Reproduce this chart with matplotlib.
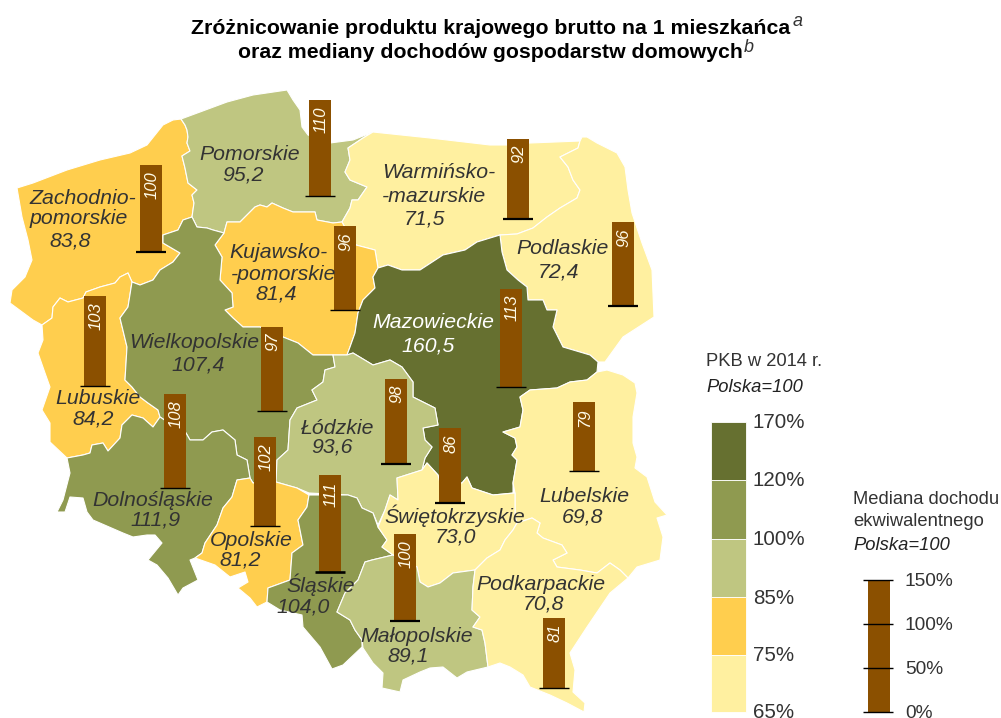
#!/usr/bin/env python3
import numpy as np
from matplotlib import pyplot as plt
from matplotlib.patches import Polygon

plt.rcParams["font.family"] = ["Liberation Sans", "DejaVu Sans"]

NAMES = [
    "Zachodniopomorskie", "Pomorskie", "Warminsko", "Podlaskie", "Kujawsko", "Lubuskie", "Wielkopolskie", "Mazowieckie",
    "Lodzkie", "Lubelskie", "Dolnoslaskie", "Opolskie", "Slaskie", "Swietokrzyskie", "Malopolskie", "Podkarpackie",
]
PKB = [83.8, 95.2, 71.5, 72.4, 81.4, 84.2, 107.4, 160.5, 93.6, 69.8, 111.9, 81.2, 104.0, 73.0, 89.1, 70.8]
MEDIANA = [100, 110, 92, 96, 96, 103, 97, 113, 98, 79, 108, 102, 111, 86, 100, 81]

LEGEND_EDGES = [170, 120, 100, 85, 75, 65]
INCOME_TICKS = [150, 100, 50, 0]

# voivodeship outlines in pixels
ZACHODNIOPOMORSKIE = [
    (181, 119), (185, 125), (187, 130), (188, 137), (187, 143), (190, 151), (182, 156), (185, 168), (188, 183),
    (197, 190), (192, 195), (194, 203), (192, 217), (183, 220), (178, 230), (163, 235), (163, 243), (180, 253),
    (173, 262), (160, 270), (153, 280), (140, 285), (132, 282), (128, 273), (120, 277), (115, 283), (100, 287),
    (86, 292), (83, 298), (68, 302), (60, 298), (53, 307), (52, 318), (42, 325), (33, 320), (10, 303), (12, 290),
    (25, 277), (32, 260), (28, 240), (22, 217), (17, 188), (33, 183), (67, 170), (100, 160), (130, 153), (147, 145),
    (163, 125), (173, 120),
]
POMORSKIE = [
    (181, 119), (200, 112), (227, 102), (253, 95), (287, 90), (293, 100), (300, 110), (302, 127), (308, 135),
    (330, 143), (353, 140), (373, 132), (363, 138), (348, 148), (350, 160), (345, 172), (350, 180), (367, 187),
    (358, 200), (352, 200), (350, 208), (342, 222), (333, 223), (317, 220), (315, 212), (293, 212), (283, 208),
    (272, 203), (267, 207), (260, 205), (255, 207), (247, 215), (240, 222), (227, 222), (224, 233), (213, 230),
    (207, 228), (197, 227), (192, 217), (194, 203), (192, 195), (197, 190), (188, 183), (185, 168), (182, 156),
    (190, 151), (187, 143), (188, 137), (187, 130), (185, 125),
]
WARMINSKO = [
    (373, 132), (430, 138), (490, 145), (507, 145), (530, 143), (580, 141), (578, 148), (560, 157), (568, 167),
    (573, 180), (580, 190), (577, 198), (560, 208), (547, 217), (533, 228), (517, 234), (500, 235), (477, 242),
    (465, 250), (443, 255), (420, 270), (402, 270), (388, 265), (378, 268), (375, 250), (356, 245), (350, 237),
    (342, 222), (350, 208), (352, 200), (358, 200), (367, 187), (350, 180), (345, 172), (350, 160), (348, 148),
    (363, 138),
]
PODLASKIE = [
    (580, 141), (582, 137), (587, 137), (597, 143), (617, 153), (625, 167), (628, 190), (632, 213), (642, 243),
    (652, 270), (654, 317), (623, 337), (605, 362), (598, 362), (590, 355), (563, 347), (553, 327), (557, 310),
    (547, 310), (543, 300), (528, 300), (527, 287), (518, 280), (507, 270), (502, 252), (500, 235), (517, 234),
    (533, 228), (547, 217), (560, 208), (577, 198), (580, 190), (573, 180), (568, 167), (560, 157), (578, 148),
]
KUJAWSKO = [
    (240, 222), (247, 215), (255, 207), (260, 205), (267, 207), (272, 203), (283, 208), (293, 212), (315, 212),
    (317, 220), (333, 223), (342, 222), (350, 237), (356, 245), (375, 250), (378, 268), (373, 277), (375, 288),
    (363, 300), (358, 313), (355, 333), (350, 347), (347, 355), (333, 355), (313, 355), (298, 343), (283, 337),
    (260, 327), (243, 327), (233, 318), (225, 310), (233, 307), (232, 293), (220, 280), (222, 257), (215, 245),
    (224, 233), (227, 222),
]
LUBUSKIE = [
    (132, 282), (128, 273), (120, 277), (115, 283), (100, 287), (86, 292), (83, 298), (68, 302), (60, 298), (53, 307),
    (52, 318), (42, 325), (43, 340), (38, 353), (45, 373), (50, 387), (42, 410), (50, 423), (50, 442), (67, 458),
    (83, 455), (90, 453), (92, 445), (103, 443), (108, 451), (120, 438), (122, 425), (132, 415), (143, 418),
    (153, 427), (160, 417), (158, 410), (148, 403), (140, 397), (132, 387), (125, 380), (127, 347), (120, 318),
    (128, 307),
]
WIELKOPOLSKIE = [
    (192, 217), (197, 227), (207, 228), (213, 230), (224, 233), (215, 245), (222, 257), (220, 280), (232, 293),
    (233, 307), (225, 310), (233, 318), (243, 327), (260, 327), (283, 337), (298, 343), (313, 355), (333, 355),
    (335, 367), (325, 370), (323, 382), (312, 390), (317, 400), (297, 408), (290, 420), (288, 450), (277, 460),
    (276, 482), (253, 483), (250, 478), (247, 460), (237, 455), (235, 440), (223, 430), (212, 432), (203, 440),
    (190, 440), (186, 433), (172, 425), (160, 417), (158, 410), (148, 403), (140, 397), (132, 387), (125, 380),
    (127, 347), (120, 318), (128, 307), (132, 282), (140, 285), (153, 280), (160, 270), (173, 262), (180, 253),
    (163, 243), (163, 235), (178, 230), (183, 220),
]
MAZOWIECKIE = [
    (500, 235), (477, 242), (465, 250), (443, 255), (420, 270), (402, 270), (388, 265), (378, 268), (373, 277),
    (375, 288), (363, 300), (358, 313), (355, 333), (350, 347), (347, 355), (353, 353), (373, 365), (390, 360),
    (402, 367), (413, 382), (413, 397), (435, 408), (438, 425), (423, 428), (425, 440), (432, 447), (425, 458),
    (422, 470), (427, 463), (438, 475), (440, 483), (462, 483), (467, 477), (472, 488), (493, 495), (513, 493),
    (513, 483), (517, 460), (512, 455), (517, 447), (515, 438), (503, 432), (520, 427), (523, 410), (520, 397),
    (530, 390), (557, 388), (570, 382), (587, 380), (597, 372), (598, 362), (590, 355), (563, 347), (553, 327),
    (557, 310), (547, 310), (543, 300), (528, 300), (527, 287), (518, 280), (507, 270), (502, 252),
]
LODZKIE = [
    (333, 355), (347, 355), (353, 353), (373, 365), (390, 360), (402, 367), (413, 382), (413, 397), (435, 408),
    (438, 425), (423, 428), (425, 440), (432, 447), (425, 458), (422, 470), (397, 478), (398, 500), (390, 495),
    (385, 510), (378, 525), (373, 513), (362, 508), (357, 498), (348, 495), (309, 493), (297, 488), (276, 482),
    (277, 460), (288, 450), (290, 420), (297, 408), (317, 400), (312, 390), (323, 382), (325, 370), (335, 367),
]
LUBELSKIE = [
    (597, 372), (607, 370), (623, 375), (635, 383), (637, 393), (633, 417), (633, 443), (637, 457), (635, 468),
    (647, 477), (655, 502), (667, 515), (657, 518), (663, 537), (660, 560), (637, 567), (628, 578), (620, 570),
    (610, 563), (597, 573), (580, 570), (557, 567), (553, 560), (567, 553), (562, 545), (543, 538), (537, 533),
    (540, 523), (532, 518), (517, 523), (515, 517), (515, 493), (513, 483), (517, 460), (512, 455), (517, 447),
    (515, 438), (503, 432), (520, 427), (523, 410), (520, 397), (530, 390), (557, 388), (570, 382), (587, 380),
]
DOLNOSLASKIE = [
    (67, 458), (83, 455), (90, 453), (92, 445), (103, 443), (108, 451), (120, 438), (122, 425), (132, 415), (143, 418),
    (153, 427), (160, 417), (172, 425), (186, 433), (190, 440), (203, 440), (212, 432), (223, 430), (235, 440),
    (237, 455), (247, 460), (250, 478), (237, 480), (232, 497), (223, 508), (217, 525), (205, 543), (202, 553),
    (195, 558), (190, 560), (198, 580), (183, 588), (178, 595), (168, 578), (157, 565), (148, 560), (162, 543),
    (155, 535), (147, 535), (133, 537), (123, 533), (93, 520), (87, 512), (83, 498), (70, 497), (65, 512), (57, 512),
    (63, 500), (70, 473),
]
OPOLSKIE = [
    (237, 480), (250, 478), (253, 483), (276, 482), (297, 488), (309, 495), (307, 507), (298, 520), (303, 545),
    (292, 553), (290, 580), (268, 588), (267, 602), (257, 607), (250, 598), (238, 588), (248, 582), (245, 572),
    (230, 577), (215, 565), (195, 558), (202, 553), (205, 543), (217, 525), (223, 508), (232, 497),
]
SLASKIE = [
    (309, 495), (348, 495), (357, 498), (362, 508), (373, 513), (378, 527), (387, 540), (382, 547), (393, 555),
    (372, 560), (365, 562), (358, 580), (345, 593), (337, 612), (350, 620), (355, 630), (362, 640), (362, 647),
    (343, 665), (332, 669), (320, 647), (303, 627), (302, 615), (280, 610), (267, 602), (268, 588), (290, 580),
    (292, 553), (303, 545), (298, 520), (307, 507),
]
SWIETOKRZYSKIE = [
    (422, 470), (427, 463), (438, 475), (440, 483), (462, 483), (467, 477), (472, 488), (493, 495), (515, 493),
    (515, 517), (517, 523), (513, 530), (505, 540), (500, 550), (487, 558), (475, 570), (453, 573), (440, 583),
    (428, 587), (420, 582), (417, 567), (393, 555), (382, 547), (387, 540), (378, 527), (385, 510), (390, 495),
    (398, 500), (397, 478),
]
MALOPOLSKIE = [
    (393, 555), (417, 567), (420, 582), (428, 587), (440, 583), (453, 573), (475, 570), (473, 587), (472, 610),
    (480, 617), (473, 627), (482, 630), (485, 643), (488, 667), (467, 672), (457, 678), (443, 667), (430, 668),
    (420, 672), (403, 680), (400, 692), (382, 688), (383, 673), (373, 663), (363, 648), (362, 640), (355, 630),
    (350, 620), (337, 612), (345, 593), (358, 580), (365, 562), (372, 560),
]
PODKARPACKIE = [
    (517, 523), (532, 518), (540, 523), (537, 533), (543, 538), (562, 545), (567, 553), (553, 560), (557, 567),
    (580, 570), (597, 573), (610, 563), (620, 570), (628, 578), (610, 593), (587, 627), (570, 653), (575, 670),
    (573, 692), (585, 703), (584, 712), (567, 703), (550, 695), (530, 687), (523, 675), (510, 667), (500, 663),
    (488, 667), (485, 643), (482, 630), (473, 627), (480, 617), (472, 610), (473, 587), (475, 570), (487, 558),
    (500, 550), (505, 540), (513, 530),
]
SHAPES = [
    ZACHODNIOPOMORSKIE, POMORSKIE, WARMINSKO, PODLASKIE, KUJAWSKO, LUBUSKIE, WIELKOPOLSKIE, MAZOWIECKIE,
    LODZKIE, LUBELSKIE, DOLNOSLASKIE, OPOLSKIE, SLASKIE, SWIETOKRZYSKIE, MALOPOLSKIE, PODKARPACKIE,
]

# name lines: text, x centre, y centre
LABEL_LINES = [
    [("Zachodnio-", 83, 199), ("pomorskie", 79, 219)],
    [("Pomorskie", 250, 154)],
    [("Warmińsko-", 439, 173), ("-mazurskie", 434, 197)],
    [("Podlaskie", 563, 249)],
    [("Kujawsko-", 278, 252), ("-pomorskie", 284, 274)],
    [("Lubuskie", 98, 399)],
    [("Wielkopolskie", 194, 343)],
    [("Mazowieckie", 433, 323)],
    [("Łódzkie", 338, 428)],
    [("Lubelskie", 584, 497)],
    [("Dolnośląskie", 153, 500)],
    [("Opolskie", 251, 540)],
    [("Śląskie", 321, 585)],
    [("Świętokrzyskie", 455, 516)],
    [("Małopolskie", 417, 636)],
    [("Podkarpackie", 541, 585)],
]
VALUE_XY = [
    (70, 241), (243, 175), (425, 219), (559, 272), (276, 294), (93, 419), (198, 365), (428, 346),
    (332, 447), (583, 517), (156, 520), (240, 560), (303, 607), (456, 537), (408, 656), (544, 604),
]

BAR_X = [151, 320, 518, 623, 345, 95, 272, 511, 396, 584, 175, 265, 330, 450, 405, 554]
BAR_BASE = [252, 196, 219, 306, 310, 386, 411, 387, 464, 471, 488, 526, 572, 503, 621, 688]
BASE_LW = [1.6, 1.0, 1.6, 1.6, 1.0, 1.0, 1.0, 1.0, 1.6, 1.0, 1.0, 1.0, 1.9, 1.6, 1.6, 1.0]

COLORS = ["#FFF0A0", "#FFCE4E", "#BFC681", "#8F9A50", "#667030"]
BROWN = "#8B5000"
TEXT = "#333333"
PX_PER_PCT = 0.87


def main():
    fig = plt.figure(figsize=(10.01, 7.18), dpi=100)
    ax = fig.add_axes([0, 0, 1, 1])
    ax.set_xlim(0, 1001)
    ax.set_ylim(718, 0)
    ax.axis("off")

    # class of each region comes from the legend edges
    edges = sorted(LEGEND_EDGES)
    classes = np.digitize(PKB, edges) - 1

    for shape, cls in zip(SHAPES, classes):
        ax.add_patch(Polygon(shape, closed=True, facecolor=COLORS[cls], edgecolor="white", linewidth=0.8, joinstyle="round"))

    for name, lines, xy, val in zip(NAMES, LABEL_LINES, VALUE_XY, PKB):
        color = "white" if name == "Mazowieckie" else TEXT
        for text, x, y in lines:
            ax.text(x, y, text, ha="center", va="center", fontsize=15.3, style="italic", color=color)
        ax.text(xy[0], xy[1], f"{val:.1f}".replace(".", ","), ha="center", va="center", fontsize=15.3, style="italic", color=color)

    # income bars grow upwards from their base line
    heights = [-v * PX_PER_PCT for v in MEDIANA]
    ax.bar(BAR_X, heights, bottom=BAR_BASE, width=22, color=BROWN, linewidth=0)
    for x, base, lw, v in zip(BAR_X, BAR_BASE, BASE_LW, MEDIANA):
        ax.plot([x - 15, x + 15], [base, base], color="black", lw=lw, solid_capstyle="butt")
        ax.text(x + 1, base - v * PX_PER_PCT + 6, str(v), rotation=90, ha="center", va="top", fontsize=12, style="italic", color="#FFFBE8")

    # title
    ax.text(491, 28, "Zróżnicowanie produktu krajowego brutto na 1 mieszkańca", ha="center", va="center", fontsize=15.3, weight="bold", color="black")
    ax.text(490, 53, "oraz mediany dochodów gospodarstw domowych", ha="center", va="center", fontsize=15.3, weight="bold", color="black")
    ax.text(793, 22, "a", ha="left", va="center", fontsize=13, style="italic", color=TEXT)
    ax.text(744, 47, "b", ha="left", va="center", fontsize=13, style="italic", color=TEXT)

    # PKB legend
    ax.text(706, 362, "PKB w 2014 r.", ha="left", va="center", fontsize=13.2, color=TEXT)
    ax.text(706, 388, "Polska=100", ha="left", va="center", fontsize=13.2, style="italic", color="#222222")
    legend_y = [422, 480, 538.5, 597, 654.5, 712]
    for i, edge in enumerate(LEGEND_EDGES):
        ax.text(753, legend_y[i] + 1, f"{edge}%", ha="left", va="center", fontsize=14.8, color=TEXT)
        if i < len(COLORS):
            ax.bar(728.5, legend_y[i + 1] - legend_y[i], bottom=legend_y[i], width=35, color=COLORS[len(COLORS) - 1 - i], edgecolor="white", linewidth=0.6)

    # income legend
    ax.text(853, 499, "Mediana dochodu", ha="left", va="center", fontsize=13.2, color=TEXT)
    ax.text(853, 521, "ekwiwalentnego", ha="left", va="center", fontsize=13.2, color=TEXT)
    ax.text(853, 545, "Polska=100", ha="left", va="center", fontsize=13.2, style="italic", color="#222222")
    ax.bar(879, -150 * 0.877, bottom=711.5, width=22, color=BROWN, linewidth=0)
    for tick in INCOME_TICKS:
        y = 711.5 - tick * 0.877
        ax.plot([863, 893], [y, y], color="black", lw=1.0, solid_capstyle="butt")
        ax.text(905, y + 2, f"{tick}%", ha="left", va="center", fontsize=13.8, color=TEXT)

    plt.savefig("out.png", dpi=100)


if __name__ == "__main__":
    main()
